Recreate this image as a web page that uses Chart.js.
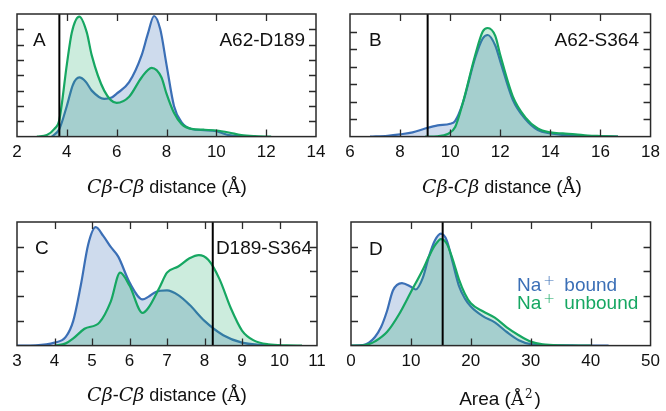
<!DOCTYPE html>
<html>
<head>
<meta charset="utf-8">
<script src="https://cdn.jsdelivr.net/npm/chart.js@4.4.1/dist/chart.umd.min.js"></script>
<style>
body { margin: 0; background: #fff; }
#wrap { position: relative; width: 666px; height: 411px; overflow: hidden; font-family: "Liberation Sans", Arial, sans-serif; color: #111; }
canvas { position: absolute; }
.txt { position: absolute; white-space: nowrap; font-size: 19px; line-height: 19px; }
.ttl { position: absolute; white-space: nowrap; font-size: 18px; line-height: 19px; transform: translateX(-50%); }
.m { font-family: "DejaVu Serif", "Liberation Serif", serif; font-style: italic; font-size: 19px; }
.aa { font-family: "DejaVu Serif", "Liberation Serif", serif; font-size: 18px; }
.p { font-size: 19px; }
sup { font-family: "DejaVu Sans", sans-serif; font-weight: 300; font-size: 14px; position: relative; top: -6px; vertical-align: baseline; margin-left: 2px; margin-right: 4px; }
.sq { font-family: "DejaVu Serif", serif; font-size: 12px; top: -7px; margin-left: 1px; margin-right: 2px; }
.blue { color: #3b6fb6; }
.green { color: #16a762; }
</style>
</head>
<body>
<div id="wrap">
  <canvas id="cA" width="333" height="205" style="left:0;top:0"></canvas>
  <canvas id="cB" width="333" height="205" style="left:333px;top:0"></canvas>
  <canvas id="cC" width="333" height="205" style="left:0;top:205px"></canvas>
  <canvas id="cD" width="333" height="205" style="left:333px;top:205px"></canvas>

  <div class="txt" style="left:33px;top:30px">A</div>
  <div class="txt" style="right:361px;top:30px">A62-D189</div>
  <div class="txt" style="left:369px;top:30px">B</div>
  <div class="txt" style="right:27px;top:30px">A62-S364</div>
  <div class="txt" style="left:35px;top:238px">C</div>
  <div class="txt" style="right:354px;top:238px">D189-S364</div>
  <div class="txt" style="left:369px;top:239px">D</div>
  <div class="txt blue" style="left:517px;top:275px">Na<sup>+</sup> bound</div>
  <div class="txt green" style="left:517px;top:293px">Na<sup>+</sup> unbound</div>

  <div class="ttl" style="left:167px;top:177px"><span class="m">Cβ</span>-<span class="m">Cβ</span> distance <span class="p">(</span><span class="aa">Å</span><span class="p">)</span></div>
  <div class="ttl" style="left:502px;top:177px"><span class="m">Cβ</span>-<span class="m">Cβ</span> distance <span class="p">(</span><span class="aa">Å</span><span class="p">)</span></div>
  <div class="ttl" style="left:167px;top:385px"><span class="m">Cβ</span>-<span class="m">Cβ</span> distance <span class="p">(</span><span class="aa">Å</span><span class="p">)</span></div>
  <div class="ttl" style="left:500px;top:389px;font-size:19px">Area (<span class="aa">Å</span><sup class="sq">2</sup>)</div>
</div>
<script>
// panel A: A62-D189 distance
var aBoundX = [3.4, 3.7, 4.0, 4.25, 4.5, 4.75, 5.0, 5.5, 5.8, 6.0, 6.5, 7.0, 7.25, 7.5, 7.75, 8.0, 8.3, 8.6, 9.0, 9.5, 10.0, 10.5, 11.0, 11.6];
var aBoundY = [0, 0.5, 2.0, 3.4, 3.86, 3.6, 3.0, 2.46, 2.55, 2.8, 3.55, 5.3, 6.7, 7.87, 7.0, 4.7, 2.0, 0.95, 0.5, 0.42, 0.35, 0.1, 0.02, 0];
var aUnboundX = [2.8, 3.2, 3.5, 3.7, 4.0, 4.2, 4.5, 4.8, 5.0, 5.5, 6.0, 6.5, 7.0, 7.4, 7.8, 8.0, 8.3, 8.6, 9.0, 9.5, 10.0, 10.5, 11.0, 11.5, 12.2];
var aUnboundY = [0, 0.1, 0.5, 1.1, 4.7, 6.8, 7.83, 6.8, 5.3, 3.0, 2.2, 2.6, 3.86, 4.49, 3.86, 2.8, 1.55, 0.83, 0.5, 0.45, 0.4, 0.27, 0.1, 0.03, 0];

// panel B: A62-S364 distance
var bBoundX = [6.8, 7.5, 8.0, 8.5, 9.0, 9.5, 10.0, 10.2, 10.5, 11.0, 11.3, 11.5, 11.8, 12.0, 12.5, 13.0, 13.5, 14.0, 14.5, 15.0, 16.0, 16.7];
var bBoundY = [0, 0.05, 0.13, 0.24, 0.46, 0.64, 0.73, 0.9, 1.9, 4.5, 5.6, 5.8, 5.2, 4.3, 2.1, 1.0, 0.37, 0.18, 0.1, 0.05, 0.02, 0];
var bUnboundX = [9.0, 9.5, 9.9, 10.2, 10.5, 11.0, 11.3, 11.5, 11.8, 12.0, 12.5, 13.0, 13.5, 14.0, 14.5, 15.0, 15.5, 16.0, 16.7];
var bUnboundY = [0, 0.02, 0.15, 0.55, 1.9, 4.66, 6.0, 6.2, 5.75, 4.66, 2.3, 1.1, 0.46, 0.24, 0.18, 0.13, 0.06, 0.03, 0];

// panel C: D189-S364 distance
var cBoundX = [3.0, 3.5, 4.0, 4.3, 4.5, 4.7, 4.9, 5.1, 5.3, 5.5, 5.7, 6.0, 6.35, 6.5, 6.7, 7.0, 7.3, 7.6, 8.0, 8.5, 9.0, 9.5, 10.0];
var cBoundY = [0, 0.01, 0.12, 0.35, 1.0, 2.43, 4.1, 4.79, 4.44, 3.99, 3.6, 2.56, 1.87, 1.97, 2.17, 2.23, 2.04, 1.65, 1.0, 0.42, 0.12, 0.03, 0];
var cUnboundX = [4.0, 4.3, 4.5, 4.8, 5.2, 5.5, 5.75, 6.0, 6.35, 6.5, 6.8, 7.0, 7.3, 7.6, 7.85, 8.1, 8.4, 8.7, 9.0, 9.3, 9.7, 10.2, 10.6];
var cUnboundY = [0, 0.09, 0.29, 0.68, 0.94, 1.78, 2.95, 2.43, 1.32, 1.52, 2.35, 2.95, 3.2, 3.53, 3.66, 3.47, 2.69, 1.52, 0.61, 0.22, 0.05, 0.01, 0];

// panel D: area
var dBoundX = [0, 2, 3, 4, 5, 6, 7, 8.5, 10, 10.8, 12, 13, 14, 15, 16, 17, 18, 19, 20, 22, 24, 26, 28, 30, 33, 38, 43];
var dBoundY = [0, 0.02, 0.12, 0.35, 0.74, 1.39, 2.23, 2.53, 2.38, 2.27, 2.75, 3.6, 4.25, 4.53, 4.25, 3.34, 2.43, 1.91, 1.58, 1.19, 0.94, 0.55, 0.22, 0.06, 0.02, 0.005, 0];
var dUnboundX = [0, 2, 3, 4, 6, 8, 10, 12, 13, 14, 15, 16, 17, 18, 19, 20, 22, 24, 26, 28, 30, 32, 35, 40];
var dUnboundY = [0, 0.01, 0.06, 0.17, 0.55, 1.26, 2.17, 3.08, 3.6, 4.05, 4.31, 4.12, 3.47, 2.69, 2.1, 1.71, 1.39, 1.13, 0.74, 0.42, 0.16, 0.05, 0.01, 0];

var blueLine = '#3b6fb6';
var greenLine = '#16a762';
var blueFill = 'rgba(59,111,182,0.25)';
var greenFill = 'rgba(22,167,98,0.22)';

function pairs(xs, ys) {
  var out = [];
  for (var i = 0; i < xs.length; i++) {
    out.push({x: xs[i], y: ys[i]});
  }
  return out;
}

// frame, inward ticks on all sides and the black marker line
var framePlugin = {
  id: 'frame',
  afterDatasetsDraw: function(chart) {
    var ctx = chart.ctx;
    var a = chart.chartArea;
    var xs = chart.scales.x;
    var ys = chart.scales.y;
    var o = chart.options.plugins.frame;
    ctx.save();
    // vertical marker
    var vx = xs.getPixelForValue(o.vline);
    ctx.strokeStyle = '#000';
    ctx.lineWidth = 2;
    ctx.beginPath();
    ctx.moveTo(vx, a.top);
    ctx.lineTo(vx, a.bottom);
    ctx.stroke();
    // ticks
    ctx.strokeStyle = '#2a2a2a';
    ctx.lineWidth = 1.3;
    ctx.beginPath();
    for (var v = o.xMin + o.xStep; v < o.xMax - 1e-9; v += o.xStep) {
      var px = Math.round(xs.getPixelForValue(v)) + 0.5;
      ctx.moveTo(px, a.bottom);
      ctx.lineTo(px, a.bottom - 7);
      ctx.moveTo(px, a.top);
      ctx.lineTo(px, a.top + 7);
    }
    for (var k = 1; k < o.yMax; k++) {
      var py = Math.round(ys.getPixelForValue(k)) + 0.5;
      ctx.moveTo(a.left, py);
      ctx.lineTo(a.left + 7, py);
      ctx.moveTo(a.right, py);
      ctx.lineTo(a.right - 7, py);
    }
    ctx.stroke();
    ctx.lineWidth = 1.5;
    ctx.strokeRect(a.left, a.top, a.right - a.left, a.bottom - a.top);
    ctx.restore();
  }
};

function makePanel(id, boundX, boundY, unboundX, unboundY, xMin, xMax, xStep, yMax, vline, pad) {
  var ctx = document.getElementById(id).getContext('2d');
  return new Chart(ctx, {
    type: 'line',
    data: {
      datasets: [
        {label: 'Na+ unbound', data: pairs(unboundX, unboundY), borderColor: greenLine, backgroundColor: greenFill, fill: 'origin', borderWidth: 2.2, pointRadius: 0, cubicInterpolationMode: 'monotone'},
        {label: 'Na+ bound', data: pairs(boundX, boundY), borderColor: blueLine, backgroundColor: blueFill, fill: 'origin', borderWidth: 2.2, pointRadius: 0, cubicInterpolationMode: 'monotone'}
      ]
    },
    options: {
      responsive: false,
      animation: false,
      events: [],
      layout: {padding: pad},
      scales: {
        x: {
          type: 'linear', min: xMin, max: xMax,
          grid: {display: false, drawTicks: false},
          border: {display: false},
          ticks: {stepSize: xStep, padding: 6, color: '#111', font: {family: '"Liberation Sans", Arial, sans-serif', size: 17}}
        },
        y: {type: 'linear', display: false, min: 0, max: yMax}
      },
      plugins: {
        legend: {display: false},
        tooltip: {enabled: false},
        frame: {xMin: xMin, xMax: xMax, xStep: xStep, yMax: yMax, vline: vline}
      }
    },
    plugins: [framePlugin]
  });
}

makePanel('cA', aBoundX, aBoundY, aUnboundX, aUnboundY, 2, 14, 2, 8, 3.7, {left: 17, right: 17, top: 14, bottom: 36});
makePanel('cB', bBoundX, bBoundY, bUnboundX, bUnboundY, 6, 18, 2, 7, 9.1, {left: 17, right: 15, top: 14, bottom: 36});
makePanel('cC', cBoundX, cBoundY, cUnboundX, cUnboundY, 3, 11, 1, 5, 8.22, {left: 17, right: 16, top: 17, bottom: 32});
makePanel('cD', dBoundX, dBoundY, dUnboundX, dUnboundY, 0, 50, 10, 5, 15.3, {left: 18, right: 14, top: 17, bottom: 32});
</script>
</body>
</html>
